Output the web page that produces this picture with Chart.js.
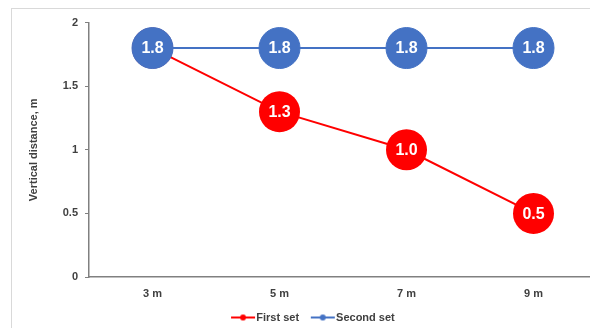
<!DOCTYPE html>
<html>
<head>
<meta charset="utf-8">
<script src="https://cdn.jsdelivr.net/npm/chart.js@4/dist/chart.umd.min.js"></script>
<style>
  html, body { margin: 0; padding: 0; background: #fff; overflow: hidden; }
  #frame { position: absolute; left: 11px; top: 8px; border-top: 1px solid #d9d9d9; border-left: 1px solid #d9d9d9; }
  #wrap { position: relative; width: 602px; height: 324px; }
</style>
</head>
<body>
<div id="frame"><div id="wrap"><canvas id="chart"></canvas></div></div>
<script>
// Horizontal distance categories and measured vertical distances (m)
const categories = ['3 m', '5 m', '7 m', '9 m'];
const firstSet = [1.8, 1.3, 1.0, 0.5];
const secondSet = [1.8, 1.8, 1.8, 1.8];
const yTicks = [0, 0.5, 1, 1.5, 2];

const RED = '#ff0000';
const BLUE = '#4472c4';
const FONT = "'Liberation Sans', Arial, sans-serif";

// Legend marker: short line with a dot in the middle
function legendMarker(color) {
  const c = document.createElement('canvas');
  c.width = 30; c.height = 8;
  const g = c.getContext('2d');
  g.strokeStyle = color; g.lineWidth = 2;
  g.beginPath(); g.moveTo(5, 4); g.lineTo(29, 4); g.stroke();
  g.fillStyle = color;
  g.beginPath(); g.arc(17, 4, 3, 0, Math.PI * 2); g.fill();
  return c;
}

// Value labels drawn inside each marker
const valueLabels = {
  id: 'valueLabels',
  afterDatasetDraw(chart, args) {
    const ctx = chart.ctx;
    const ds = chart.data.datasets[args.index];
    ctx.save();
    ctx.fillStyle = '#ffffff';
    ctx.font = 'bold 16px ' + FONT;
    ctx.textAlign = 'center';
    ctx.textBaseline = 'middle';
    args.meta.data.forEach((pt, i) => {
      ctx.fillText(ds.data[i].toFixed(1), pt.x, pt.y + 1);
    });
    ctx.restore();
  }
};

new Chart(document.getElementById('chart'), {
  type: 'line',
  data: {
    labels: categories,
    datasets: [
      {
        label: 'First set',
        data: firstSet,
        borderColor: RED,
        backgroundColor: RED,
        borderWidth: 2,
        pointRadius: 20.5,
        pointHoverRadius: 20.5,
        pointBorderWidth: 0,
        pointStyle: 'circle',
        order: 2,
        legendMarker: legendMarker(RED)
      },
      {
        label: 'Second set',
        data: secondSet,
        borderColor: BLUE,
        backgroundColor: BLUE,
        borderWidth: 2,
        pointRadius: 20.5,
        pointHoverRadius: 20.5,
        pointBorderColor: BLUE,
        pointBorderWidth: 1,
        pointStyle: 'circle',
        order: 1,
        legendMarker: legendMarker(BLUE)
      }
    ]
  },
  options: {
    responsive: true,
    maintainAspectRatio: false,
    animation: false,
    events: [],
    clip: false,
    layout: { autoPadding: false, padding: { top: 13, right: 0, left: 0, bottom: 0 } },
    scales: {
      x: {
        offset: true,
        afterFit(scale) { scale.height = 23; },
        grid: { display: false, drawTicks: false },
        border: { display: true, color: '#808080', width: 1.5 },
        ticks: { padding: 10, color: '#404040', font: { family: FONT, size: 11, weight: 'bold' } }
      },
      y: {
        min: 0,
        max: 2,
        afterBuildTicks(scale) { scale.ticks = yTicks.map(v => ({ value: v })); },
        afterFit(scale) { scale.width = 77; },
        grid: { drawOnChartArea: false, drawTicks: true, tickLength: 4, color: '#808080' },
        border: { display: true, color: '#808080', width: 1.5 },
        ticks: {
          padding: 7,
          color: '#404040',
          font: { family: FONT, size: 11, weight: 'bold' },
          callback: (v) => String(v)
        },
        title: {
          display: true,
          text: 'Vertical distance, m',
          color: '#404040',
          padding: { top: 15, bottom: 4 },
          font: { family: FONT, size: 11, weight: 'bold' }
        }
      },
      // empty right-hand margin so the plot stops short of the frame edge
      gutter: {
        type: 'linear',
        position: 'right',
        display: true,
        afterFit(scale) { scale.width = 17; },
        grid: { display: false, drawTicks: false },
        border: { display: false },
        ticks: { display: false }
      }
    },
    plugins: {
      tooltip: { enabled: false },
      legend: {
        position: 'bottom',
        labels: {
          usePointStyle: true,
          pointStyleWidth: 19.5,
          padding: 12,
          color: '#404040',
          font: { family: FONT, size: 11, weight: 'bold' },
          sort: (a, b) => a.datasetIndex - b.datasetIndex,
          generateLabels(chart) {
            return chart.data.datasets.map((ds, i) => ({
              text: ds.label,
              datasetIndex: i,
              pointStyle: ds.legendMarker,
              fillStyle: ds.borderColor,
              strokeStyle: ds.borderColor,
              fontColor: '#404040',
              lineWidth: 0,
              hidden: false
            }));
          }
        }
      }
    }
  },
  plugins: [valueLabels]
});
</script>
</body>
</html>
